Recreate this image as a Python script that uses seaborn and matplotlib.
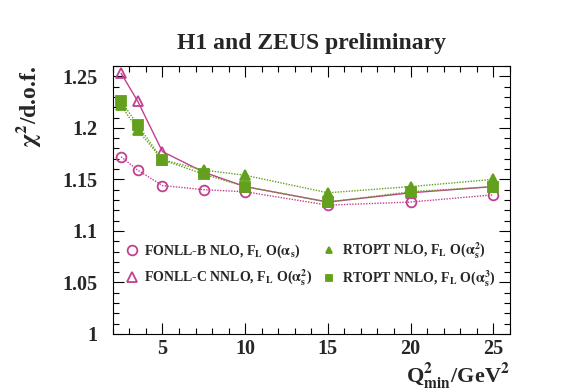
import pandas as pd
import matplotlib.pyplot as plt
import seaborn as sns
from matplotlib.ticker import MultipleLocator

q2min = [2.5, 3.5, 5, 7.5, 10, 15, 20, 25]
fonll_b = [1.172, 1.159, 1.144, 1.140, 1.138, 1.125, 1.128, 1.135]
fonll_c = [1.253, 1.226, 1.177, 1.157, 1.143, 1.128, 1.137, 1.143]
rtopt_nlo = [1.222, 1.198, 1.169, 1.159, 1.154, 1.137, 1.143, 1.150]
rtopt_nnlo = [1.226, 1.203, 1.169, 1.155, 1.143, 1.128, 1.138, 1.143]

labels = [
    r"FONLL-B NLO, F$_\mathbf{L}$ O($\alpha_\mathbf{s}$)",
    r"FONLL-C NNLO, F$_\mathbf{L}$ O($\alpha_\mathbf{s}^\mathbf{2}$)",
    r"RTOPT NLO, F$_\mathbf{L}$ O($\alpha_\mathbf{s}^\mathbf{2}$)",
    r"RTOPT NNLO, F$_\mathbf{L}$ O($\alpha_\mathbf{s}^\mathbf{3}$)",
]

magenta = "#c2408f"
green = "#62a01e"

sns.set_theme(style="ticks")
plt.rcParams["font.family"] = ["Liberation Serif", "DejaVu Serif"]
plt.rcParams["font.weight"] = "bold"
plt.rcParams["mathtext.fontset"] = "stix"
plt.rcParams["mathtext.default"] = "bf"

fig = plt.figure(figsize=(5.67, 3.91), dpi=100)
ax = fig.add_axes([0.199, 0.146, 0.70, 0.685])

styles = [
    (fonll_b, magenta, "o", "none", (1, 1)),
    (fonll_c, magenta, "^", "none", ""),
    (rtopt_nlo, green, "^", green, (1, 1)),
    (rtopt_nnlo, green, "s", green, (1, 1)),
]
handles = []
for (vals, col, mk, fc, dash), lab in zip(styles, labels):
    df = pd.DataFrame({"q2": q2min, "chi2": vals})
    sns.lineplot(data=df, x="q2", y="chi2", ax=ax, color=col, lw=1.0,
                 marker=mk, markersize=7, markerfacecolor=fc,
                 markeredgecolor=col, markeredgewidth=1.3)
    if dash:
        ax.lines[-1].set_linestyle((0, dash))
    h, = ax.plot([], [], ls="none", marker=mk, markersize=7 if fc == "none" else 5,
                 markerfacecolor=fc, markeredgecolor=col, markeredgewidth=1.3)
    handles.append(h)

ax.set_xlim(2, 26)
ax.set_ylim(1, 1.26)
ax.xaxis.set_minor_locator(MultipleLocator(1))
ax.yaxis.set_minor_locator(MultipleLocator(0.01))
ax.set_xticks([5, 10, 15, 20, 25])
ax.set_xticklabels(["5", "10", "15", "20", "25"])
ax.set_yticks([1, 1.05, 1.1, 1.15, 1.2, 1.25])
ax.set_yticklabels(["1", "1.05", "1.1", "1.15", "1.2", "1.25"])
ax.tick_params(which="both", direction="in", top=True, right=True,
               labelsize=14.5, width=0.8, color="black")
ax.tick_params(axis="x", which="both", pad=4)
ax.tick_params(axis="y", which="both", pad=11)
ax.tick_params(which="major", length=8)
ax.tick_params(which="minor", length=4)
for lab in ax.get_xticklabels() + ax.get_yticklabels():
    lab.set_fontweight("bold")
for s in ax.spines.values():
    s.set_linewidth(0.8)
    s.set_color("black")

ax.set_xlabel(r"Q$^\mathbf{2}_\mathbf{min}$/GeV$^\mathbf{2}$", fontsize=16,
              fontweight="bold", loc="right", labelpad=1)
ax.set_ylabel(r"$\chi^\mathbf{2}$/d.o.f.", fontsize=17, fontweight="bold",
              loc="top", labelpad=14)
ax.set_title("H1 and ZEUS preliminary", fontsize=17, fontweight="bold", pad=12)

ax.legend(handles, labels, ncol=2, frameon=False, loc="lower left",
          bbox_to_anchor=(-0.005, 0.12), prop={"size": 10, "weight": "bold"},
          handletextpad=0.3, columnspacing=0.6, labelspacing=0.55,
          handlelength=1.2)

fig.savefig("out.png", dpi=100)
